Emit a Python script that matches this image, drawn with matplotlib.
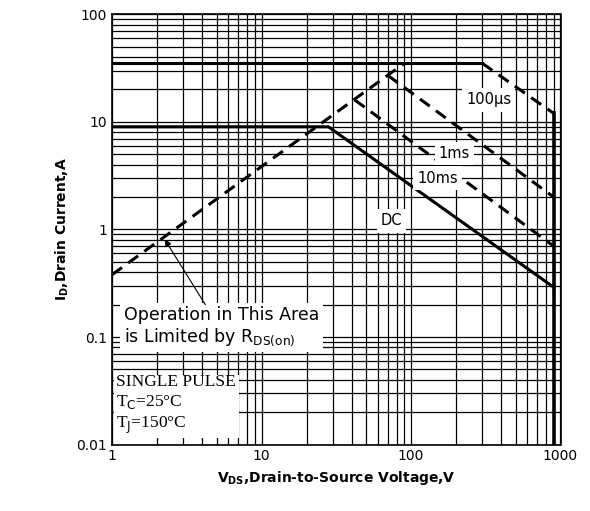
import matplotlib
matplotlib.use("Agg")
import matplotlib.pyplot as plt
from matplotlib.ticker import LogLocator, NullFormatter, FixedLocator, FixedFormatter

rds_v = [1, 90]; rds_i = [0.38, 35]
us100_flat_v = [1, 300]; us100_flat_i = [35, 35]
us100_slope_v = [300, 900]; us100_slope_i = [35, 12]
vmax_v = [900, 900]; vmax_i = [12, 0.01]
ms1_v = [70, 900]; ms1_i = [27, 2.0]
ms10_v = [42, 900]; ms10_i = [16, 0.7]
dc_v = [1, 28, 900]; dc_i = [9, 9, 0.29]
xticks = [1, 10, 100, 1000]; xlabels = ["1", "10", "100", "1000"]
yticks = [0.01, 0.1, 1, 10, 100]; ylabels = ["0.01", "0.1", "1", "10", "100"]

fig = plt.figure(figsize=(5.9, 5.11), dpi=100)
ax = fig.add_axes([0.19, 0.13, 0.76, 0.842])
ax.set_xscale("log"); ax.set_yscale("log")
ax.set_xlim(1, 1000); ax.set_ylim(0.01, 100)
ax.xaxis.set_major_locator(FixedLocator(xticks)); ax.xaxis.set_major_formatter(FixedFormatter(xlabels))
ax.yaxis.set_major_locator(FixedLocator(yticks)); ax.yaxis.set_major_formatter(FixedFormatter(ylabels))
ax.xaxis.set_minor_locator(LogLocator(base=10, subs=range(2, 10)))
ax.yaxis.set_minor_locator(LogLocator(base=10, subs=range(2, 10)))
ax.xaxis.set_minor_formatter(NullFormatter()); ax.yaxis.set_minor_formatter(NullFormatter())
ax.grid(True, which="both", color="black", lw=0.9)
ax.tick_params(which="both", length=0, labelsize=10)
for s in ax.spines.values():
    s.set_linewidth(1.2)

kw = dict(color="black", lw=2.2)
ax.plot(rds_v, rds_i, ls=(0, (4, 2.5)), **kw)
ax.plot(us100_flat_v, us100_flat_i, **kw)
ax.plot(us100_slope_v, us100_slope_i, ls=(0, (4, 2.5)), **kw)
ax.plot(vmax_v, vmax_i, color="black", lw=2.6)
ax.plot(ms1_v, ms1_i, ls=(0, (4, 2.5)), **kw)
ax.plot(ms10_v, ms10_i, ls=(0, (4, 2.5)), **kw)
ax.plot(dc_v, dc_i, **kw)

box = dict(facecolor="white", edgecolor="none", pad=3)
ax.text(330, 16, "100µs", fontsize=10.5, ha="center", va="center", bbox=box)
ax.text(195, 5.1, "1ms", fontsize=10.5, ha="center", va="center", bbox=box)
ax.text(150, 3.0, "10ms", fontsize=10.5, ha="center", va="center", bbox=box)
ax.text(74, 1.2, "DC", fontsize=10.5, ha="center", va="center", bbox=box)
ax.text(1.2, 0.125, "Operation in This Area\nis Limited by R$_{\\mathrm{DS(on)}}$", fontsize=12.5,
        ha="left", va="center", linespacing=1.15, bbox=dict(facecolor="white", edgecolor="none", pad=3))
ax.annotate("", xy=(2.2, 0.85), xytext=(4.3, 0.19),
            arrowprops=dict(arrowstyle="-|>", color="black", lw=0.8, mutation_scale=10))
ax.text(1.07, 0.0235, "SINGLE PULSE\nT$_\\mathrm{C}$=25°C\nT$_\\mathrm{J}$=150°C", fontsize=12.5,
        family="Liberation Serif", ha="left", va="center", linespacing=1.25,
        bbox=dict(facecolor="white", edgecolor="none", pad=2))

ax.set_xlabel("V$_{\\mathbf{DS}}$,Drain-to-Source Voltage,V", fontsize=10, fontweight="bold")
ax.set_ylabel("I$_{\\mathbf{D}}$,Drain Current,A", fontsize=10, fontweight="bold")
fig.savefig("out.png", dpi=100, facecolor="white")
